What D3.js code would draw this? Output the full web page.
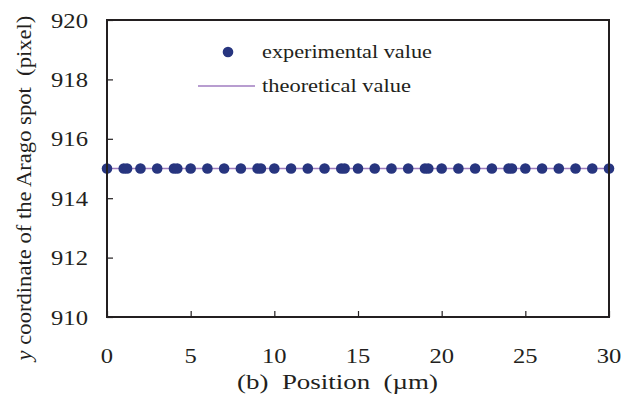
<!DOCTYPE html>
<html>
<head>
<meta charset="utf-8">
<script src="https://cdn.jsdelivr.net/npm/d3@7"></script>
<style>
  body { margin: 0; background: #fff; }
  svg text { font-family: "Liberation Serif", "DejaVu Serif", serif; fill: #231f20; }
</style>
</head>
<body>
<svg id="chart" width="633" height="396"></svg>
<script>
// measured positions (um) and spot y coordinate (pixel)
const positions = [0, 1, 1.2, 2, 3, 4, 4.2, 5, 6, 7, 8, 9, 9.2, 10, 11, 12, 13, 14, 14.2, 15,
  16, 17, 18, 19, 19.2, 20, 21, 22, 23, 24, 24.2, 25, 26, 27, 28, 29, 30];
const spotY = [915, 915, 915, 915, 915, 915, 915, 915, 915, 915, 915, 915, 915, 915, 915, 915, 915, 915, 915, 915,
  915, 915, 915, 915, 915, 915, 915, 915, 915, 915, 915, 915, 915, 915, 915, 915, 915];
const theoryX = [0, 30];
const theoryY = [915, 915];
const xTicks = [0, 5, 10, 15, 20, 25, 30];
const yTicks = [910, 912, 914, 916, 918, 920];

const svg = d3.select('#chart');
const mLeft = 107, mRight = 609, mTop = 20, mBottom = 317;

const x = d3.scaleLinear().domain([0, 30]).range([mLeft, mRight]);
const y = d3.scaleLinear().domain([910, 920]).range([mBottom, mTop]);

// stretch a text horizontally so it spans w pixels (the reference type is wide)
const fit = function(sel, tx, ty, w, rot) {
  const len = sel.node().getComputedTextLength();
  sel.attr('transform', `translate(${tx},${ty})${rot ? ' rotate(' + rot + ')' : ''} scale(${w / len},1)`);
}

// theoretical line
svg.append('path')
  .datum(theoryX.map((d, i) => [d, theoryY[i]]))
  .attr('d', d3.line().x(d => x(d[0])).y(d => y(d[1])))
  .attr('stroke', '#a07cc0')
  .attr('stroke-width', 1.5)
  .attr('fill', 'none');

// experimental points
svg.append('g')
  .selectAll('circle')
  .data(positions)
  .enter()
  .append('circle')
  .attr('cx', d => x(d))
  .attr('cy', (d, i) => y(spotY[i]))
  .attr('r', 5.3)
  .attr('fill', '#27357f');

// frame
svg.append('rect')
  .attr('x', mLeft).attr('y', mTop)
  .attr('width', mRight - mLeft).attr('height', mBottom - mTop)
  .attr('fill', 'none')
  .attr('stroke', '#231f20')
  .attr('stroke-width', 2);

// axes with inward ticks
const xAxis = svg.append('g')
  .attr('transform', `translate(0,${mBottom})`)
  .call(d3.axisTop(x).tickValues(xTicks).tickSize(6).tickFormat(''));
xAxis.select('.domain').remove();
xAxis.selectAll('line').attr('stroke', '#231f20').attr('stroke-width', 1.2);

svg.append('g')
  .selectAll('text')
  .data(xTicks)
  .enter()
  .append('text')
  .attr('text-anchor', 'middle')
  .style('font-size', '21px')
  .text(d => d)
  .each(function(d) { fit(d3.select(this), x(d), 363, String(d).length * 12.3); });

const yAxis = svg.append('g')
  .attr('transform', `translate(${mLeft},0)`)
  .call(d3.axisRight(y).tickValues(yTicks).tickSize(6).tickFormat(''));
yAxis.select('.domain').remove();
yAxis.selectAll('line').attr('stroke', '#231f20').attr('stroke-width', 1.2);

svg.append('g')
  .selectAll('text')
  .data(yTicks)
  .enter()
  .append('text')
  .attr('text-anchor', 'end')
  .style('font-size', '21px')
  .text(d => d)
  .each(function(d) { fit(d3.select(this), 88, y(d) + 7.5, 37); });

// axis titles
const xt = svg.append('text')
  .attr('text-anchor', 'middle')
  .style('font-size', '20px')
  .attr('xml:space', 'preserve')
  .text('(b)  Position  (\u00b5m)');
fit(xt, 337.5, 389, 201);

const yt = svg.append('text')
  .attr('text-anchor', 'middle')
  .attr('xml:space', 'preserve')
  .style('font-size', '20px');
yt.append('tspan').style('font-style', 'italic').text('y');
yt.append('tspan').text(' coordinate of the Arago spot  (pixel)');
fit(yt, 31, 188, 345, -90);

// legend
svg.append('circle')
  .attr('cx', 228).attr('cy', 52).attr('r', 5.3)
  .attr('fill', '#27357f');
const l1 = svg.append('text')
  .style('font-size', '19px')
  .text('experimental value');
fit(l1, 262, 58, 170);
svg.append('line')
  .attr('x1', 198).attr('x2', 255)
  .attr('y1', 86).attr('y2', 86)
  .attr('stroke', '#a07cc0')
  .attr('stroke-width', 1.5);
const l2 = svg.append('text')
  .style('font-size', '19px')
  .text('theoretical value');
fit(l2, 262, 92, 149);
</script>
</body>
</html>
